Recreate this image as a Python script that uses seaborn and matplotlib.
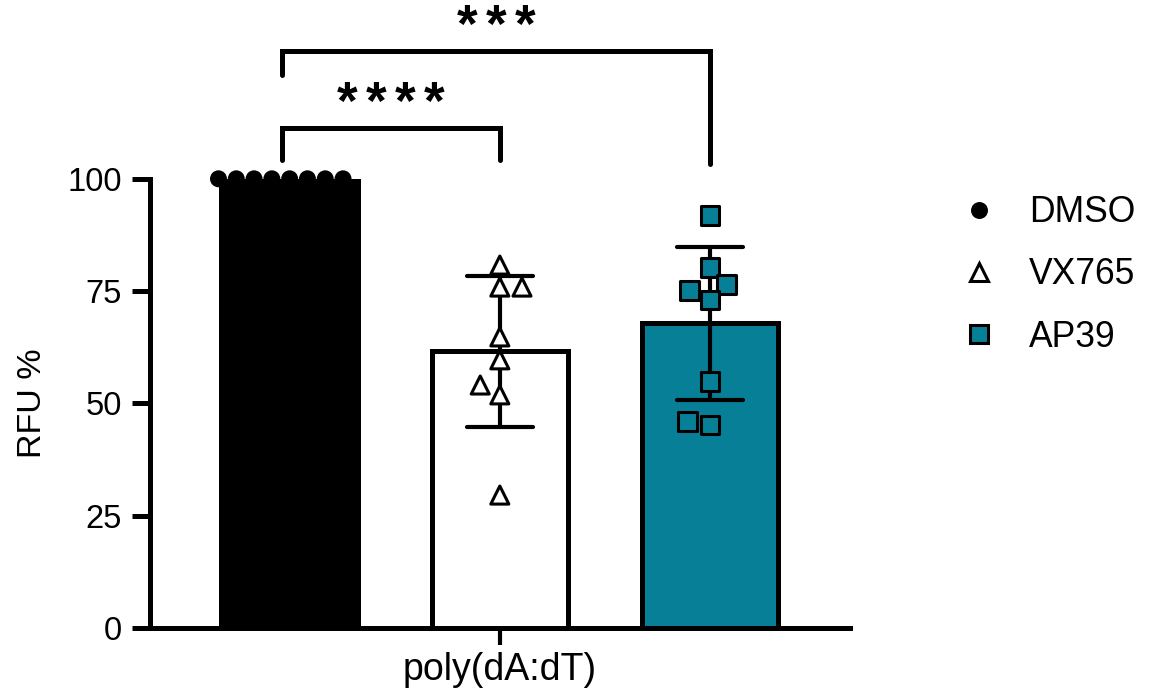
import matplotlib
matplotlib.use('Agg')
import matplotlib.pyplot as plt
from matplotlib.lines import Line2D
import seaborn as sns
import pandas as pd

# values (RFU %)
condition = 'poly(dA:dT)'
groups = ['DMSO', 'VX765', 'AP39']
dmso = [100, 100, 100, 100, 100, 100, 100, 100]
vx765 = [80.8, 75.9, 75.9, 64.8, 59.7, 54.1, 51.9, 29.6]
ap39 = [91.8, 80.2, 76.4, 75.1, 73.0, 54.8, 45.9, 45.2]
yticks = [0, 25, 50, 75, 100]

# significance: (group a, group b, label)
comparisons = [('DMSO', 'VX765', '****'), ('DMSO', 'AP39', '***')]

colors = ['black', 'white', '#077f97']
markers = ['o', '^', 's']
sizes = [10, 13, 13.5]

df = pd.DataFrame({
    'cond': condition,
    'group': ['DMSO'] * len(dmso) + ['VX765'] * len(vx765) + ['AP39'] * len(ap39),
    'rfu': dmso + vx765 + ap39,
})

sns.set_style('ticks')
plt.rcParams['font.family'] = ['Liberation Sans', 'DejaVu Sans']
plt.rcParams.update({'text.color': 'black', 'axes.labelcolor': 'black',
                     'xtick.color': 'black', 'ytick.color': 'black',
                     'axes.edgecolor': 'black'})

fig = plt.figure(figsize=(11.53, 6.89), dpi=100)
ax = fig.add_axes([0.130, 0.0885, 0.607, 0.652])

sns.barplot(data=df, x='cond', y='rfu', hue='group', hue_order=groups,
            palette=colors, saturation=1, errorbar='sd', capsize=0.25, gap=0.35,
            err_kws={'color': 'black', 'linewidth': 3}, edgecolor='black',
            linewidth=3.6, legend=False, ax=ax)

# points on top of bars, one call per group so each gets its own marker
for g, m, c, s in zip(groups, markers, colors, sizes):
    sns.swarmplot(data=df[df['group'] == g], x='cond', y='rfu', hue='group',
                  hue_order=groups, palette=colors, dodge=True, marker=m,
                  size=s, edgecolor='black', linewidth=2.2, legend=False,
                  ax=ax, zorder=5)
# let the DMSO dots at 100 poke out above the axes
for coll in ax.collections:
    if len(coll.get_offsets()) > 0:
        coll.set_clip_on(False)

ax.set_xlim(-0.444, 0.444)
ax.set_ylim(0, 100)
ax.set_yticks(yticks)
ax.set_xlabel('')
ax.set_ylabel('RFU %', fontsize=24.5, labelpad=14)
sns.despine(ax=ax)
for sp in ['left', 'bottom']:
    ax.spines[sp].set_linewidth(3.6)
ax.tick_params(axis='y', width=3.6, length=13, labelsize=23.5, pad=7)
ax.tick_params(axis='x', width=3, length=12, labelsize=27, pad=5)

# bracket positions from the dodge layout
slot = 0.8 / len(groups)
pos = {g: (i - (len(groups) - 1) / 2) * slot for i, g in enumerate(groups)}
bracket_y = [(104.2, 111.4, 104.2, 116.5), (123, 128.5, 103.3, 133.5)]
star_pitch = 0.037
for (a, b, lab), (ya, yb, yc, yt) in zip(comparisons, bracket_y):
    x0 = pos[a] - 0.01
    ax.plot([x0, x0, pos[b], pos[b]], [ya, yb, yb, yc], color='black',
            lw=3.6, clip_on=False, solid_joinstyle='miter')
    mid = (x0 + pos[b]) / 2
    for k, ch in enumerate(lab):
        ax.text(mid + (k - (len(lab) - 1) / 2) * star_pitch, yt, ch,
                ha='center', va='center', fontsize=38, fontweight='bold',
                clip_on=False)

handles = [Line2D([], [], linestyle='none', marker=m, markersize=s,
                  markerfacecolor=c, markeredgecolor='black', markeredgewidth=2.2)
           for m, c, s in zip(markers, colors, sizes)]
fig.legend(handles, groups, loc='upper left', bbox_to_anchor=(0.834, 0.717),
           frameon=False, fontsize=25.6, handlelength=1, handletextpad=0.9,
           labelspacing=0.77, borderpad=0, borderaxespad=0)

fig.savefig('out.png', dpi=100)
